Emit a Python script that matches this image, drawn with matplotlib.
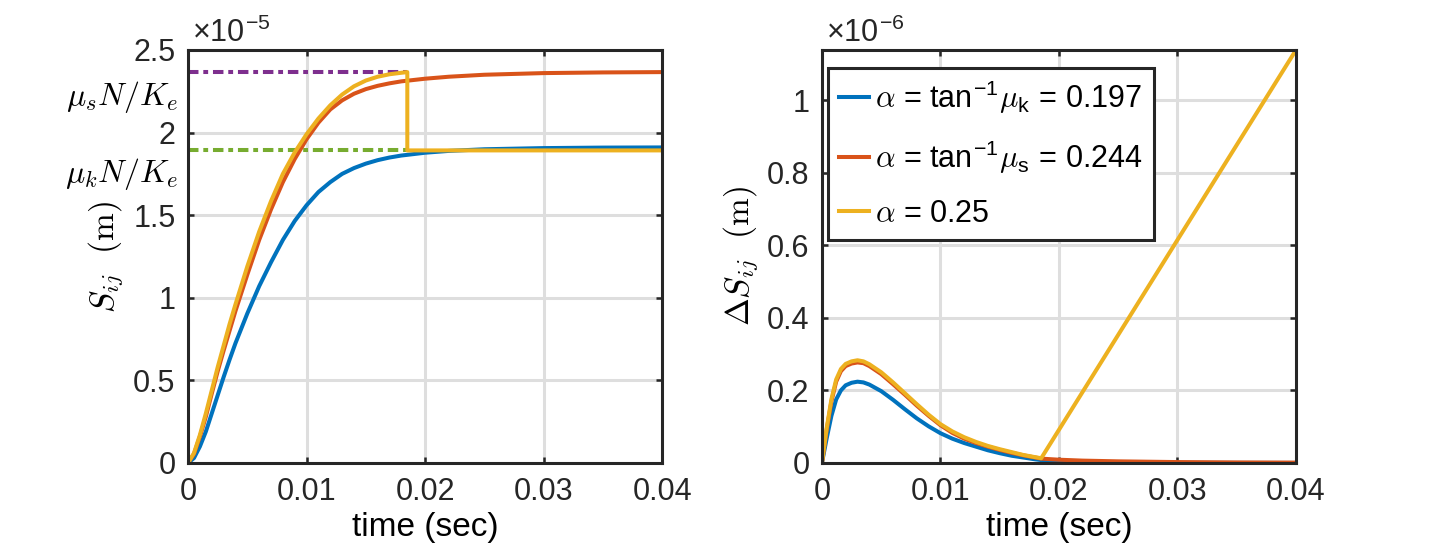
import matplotlib
matplotlib.use('Agg')
import matplotlib.pyplot as plt
from matplotlib.ticker import FormatStrFormatter

# --- data ---
# left panel, S_ij in units of 1e-5 m
t_left = [0, 0.0005, 0.001, 0.0015, 0.002, 0.0025, 0.003, 0.0035, 0.004, 0.005,
          0.006, 0.007, 0.008, 0.009, 0.010, 0.011, 0.012, 0.013, 0.014,
          0.015, 0.016, 0.017, 0.018, 0.020, 0.022, 0.025, 0.030, 0.035, 0.040]
s_blue = [0, 0.03, 0.10, 0.19, 0.30, 0.41, 0.52, 0.625, 0.725, 0.905,
          1.07, 1.215, 1.35, 1.465, 1.56, 1.64, 1.70, 1.75, 1.785,
          1.812, 1.833, 1.849, 1.861, 1.878, 1.889, 1.899, 1.906, 1.909, 1.91]
s_orange = [0, 0.055, 0.16, 0.28, 0.42, 0.555, 0.68, 0.80, 0.92, 1.14,
            1.35, 1.535, 1.70, 1.84, 1.96, 2.06, 2.14, 2.195, 2.235,
            2.263, 2.283, 2.298, 2.31, 2.326, 2.338, 2.35, 2.36, 2.364, 2.366]
t_yel = [0, 0.0005, 0.001, 0.0015, 0.002, 0.0025, 0.003, 0.0035, 0.004, 0.005,
         0.006, 0.007, 0.008, 0.009, 0.010, 0.011, 0.012, 0.013, 0.014,
         0.015, 0.016, 0.017, 0.018, 0.0185, 0.0185, 0.040]
s_yel = [0, 0.06, 0.17, 0.30, 0.44, 0.58, 0.71, 0.84, 0.96, 1.19,
         1.40, 1.585, 1.75, 1.88, 1.99, 2.085, 2.165, 2.23, 2.28,
         2.315, 2.338, 2.353, 2.362, 2.366, 1.892, 1.892]
t_slip = 0.0185
mu_s_level = 2.367
mu_k_level = 1.892

# right panel, Delta S_ij in units of 1e-6 m
t_right = [0, 0.0004, 0.0008, 0.0012, 0.0016, 0.002, 0.0025, 0.003, 0.0035,
           0.004, 0.005, 0.006, 0.007, 0.008, 0.009, 0.010, 0.011, 0.012,
           0.013, 0.014, 0.015, 0.016, 0.017, 0.018, 0.0185, 0.020, 0.022,
           0.025, 0.030, 0.035, 0.040]
d_blue = [0, 0.068, 0.130, 0.175, 0.200, 0.214, 0.221, 0.224, 0.222,
          0.216, 0.198, 0.174, 0.148, 0.123, 0.101, 0.082, 0.067, 0.055,
          0.045, 0.035, 0.027, 0.020, 0.015, 0.010, 0.008, 0.005, 0.003,
          0.0015, 0.0005, 0.0002, 0.0001]
d_orange = [0, 0.092, 0.170, 0.224, 0.253, 0.267, 0.274, 0.277, 0.275,
            0.267, 0.245, 0.217, 0.188, 0.158, 0.130, 0.104, 0.083, 0.067,
            0.055, 0.045, 0.036, 0.028, 0.021, 0.015, 0.012, 0.009, 0.0065,
            0.0045, 0.0025, 0.0015, 0.001]
t_yel_r = [0, 0.0004, 0.0008, 0.0012, 0.0016, 0.002, 0.0025, 0.003, 0.0035,
           0.004, 0.005, 0.006, 0.007, 0.008, 0.009, 0.010, 0.011, 0.012,
           0.013, 0.014, 0.015, 0.016, 0.017, 0.018, 0.0185, 0.040]
d_yel = [0, 0.096, 0.176, 0.230, 0.259, 0.273, 0.280, 0.283, 0.280,
         0.272, 0.250, 0.222, 0.192, 0.162, 0.133, 0.107, 0.087, 0.071,
         0.058, 0.047, 0.038, 0.030, 0.022, 0.016, 0.013, 1.138]

labels = [r'$\alpha$ = tan$^{\mathregular{-1}}\mu_{\mathregular{k}}$ = 0.197',
          r'$\alpha$ = tan$^{\mathregular{-1}}\mu_{\mathregular{s}}$ = 0.244',
          r'$\alpha$ = 0.25']
xticks = [0, 0.01, 0.02, 0.03, 0.04]

blue = '#0072BD'
orange = '#D95319'
yellow = '#EDB120'
purple = '#7E2F8E'
green = '#77AC30'
dark = '#262626'


def style(ax):
    ax.set_xlim(0, 0.04)
    ax.set_xticks(xticks)
    ax.xaxis.set_major_formatter(FormatStrFormatter('%g'))
    ax.yaxis.set_major_formatter(FormatStrFormatter('%g'))
    ax.grid(True, color='#dedede', linewidth=2.2)
    ax.set_axisbelow(True)
    ax.tick_params(direction='in', top=True, right=True, length=4, width=1.8,
                   colors=dark, labelcolor=dark, labelsize=22)
    ax.tick_params(axis='x', pad=10)
    ax.tick_params(axis='y', pad=9)
    for s in ax.spines.values():
        s.set_linewidth(2.2)
        s.set_color(dark)
    ax.set_xlabel('time (sec)', color='black', fontsize=24, labelpad=4)


def main():
    plt.rcParams['font.family'] = 'Liberation Sans'
    plt.rcParams['mathtext.fontset'] = 'cm'
    plt.rcParams['font.size'] = 22

    fig = plt.figure(figsize=(14.4, 5.57), dpi=100)
    ax1 = fig.add_axes([0.1306, 0.1688, 0.3292, 0.7415])
    ax2 = fig.add_axes([0.5708, 0.1688, 0.3292, 0.7415])

    lw = 2.9
    dash = (2.6, 1.2, 1.2, 1.2)

    # left panel
    ax1.plot([0, t_slip], [mu_s_level, mu_s_level], color=purple, lw=lw, dashes=dash)
    ax1.plot([0, t_slip], [mu_k_level, mu_k_level], color=green, lw=lw, dashes=dash)
    ax1.plot(t_left, s_blue, color=blue, lw=lw)
    ax1.plot(t_left, s_orange, color=orange, lw=lw)
    ax1.plot(t_yel, s_yel, color=yellow, lw=lw)
    ax1.set_ylim(0, 2.5)
    ax1.set_yticks([0, 0.5, 1, 1.5, 2, 2.5])
    style(ax1)
    ax1.set_ylabel(r'$S_{ij}\ \ (\mathrm{m})$', fontsize=24)
    ax1.yaxis.set_label_coords(-0.133, 0.5)
    ax1.text(0.008, 1.019, '×10$^{\\mathregular{-5}}$', transform=ax1.transAxes,
             ha='left', va='baseline', color=dark)
    tr = ax1.get_yaxis_transform()
    ax1.text(-0.02, 2.217, r'$\mu_s N/K_e$', transform=tr, ha='right', va='center', fontsize=23)
    ax1.text(-0.02, 1.747, r'$\mu_k N/K_e$', transform=tr, ha='right', va='center', fontsize=23)

    # right panel
    l1, = ax2.plot(t_right, d_blue, color=blue, lw=lw)
    l2, = ax2.plot(t_right, d_orange, color=orange, lw=lw)
    l3, = ax2.plot(t_yel_r, d_yel, color=yellow, lw=lw)
    ax2.set_ylim(0, 1.138)
    ax2.set_yticks([0, 0.2, 0.4, 0.6, 0.8, 1])
    style(ax2)
    ax2.set_ylabel(r'$\Delta S_{ij}\ \ (\mathrm{m})$', fontsize=24)
    ax2.yaxis.set_label_coords(-0.131, 0.5)
    ax2.text(0.008, 1.019, '×10$^{\\mathregular{-6}}$', transform=ax2.transAxes,
             ha='left', va='baseline', color=dark)

    leg = ax2.legend([l1, l2, l3], labels, loc='upper left',
                     bbox_to_anchor=(0.0127, 0.956), borderaxespad=0,
                     fancybox=False, framealpha=1, edgecolor=dark, fontsize=22,
                     handlelength=1.0, handletextpad=0.2, labelspacing=0.75,
                     borderpad=0.35)
    leg.get_frame().set_linewidth(2.2)

    fig.savefig('out.png', dpi=100)


if __name__ == "__main__": main()
